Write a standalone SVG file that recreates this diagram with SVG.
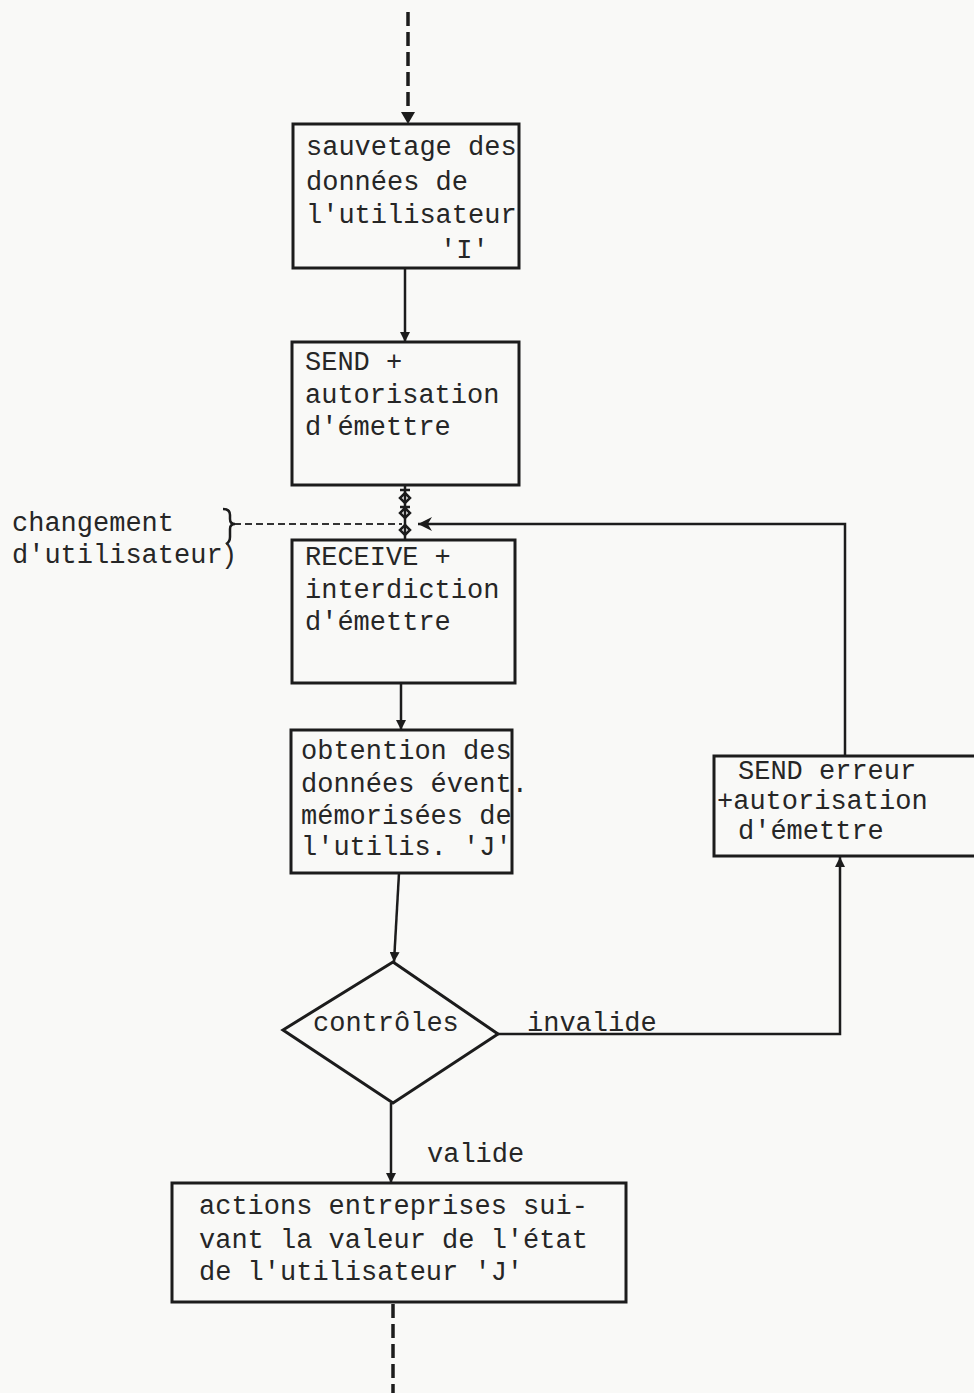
<svg xmlns="http://www.w3.org/2000/svg" width="974" height="1393" viewBox="0 0 974 1393">
<style>
.bg{fill:#f9f9f7}
.box{fill:none;stroke:#1c1c1c;stroke-width:3}
.t{font-family:"Liberation Mono","Courier New",monospace;font-size:27px;fill:#262626}
.ln{fill:none;stroke:#1c1c1c;stroke-width:2.5}
.dash{fill:none;stroke:#1c1c1c;stroke-width:3.5;stroke-dasharray:14 6}
.dl{fill:none;stroke:#333;stroke-width:1.8;stroke-dasharray:7 4}
.ah{fill:#1c1c1c}
</style>
<defs>
<marker id="arr" viewBox="0 0 10 10" refX="10" refY="5" markerWidth="10" markerHeight="10" markerUnits="userSpaceOnUse" orient="auto">
<path d="M0,0 L10,5 L0,10 z" class="ah"/>
</marker>
<marker id="arrL" viewBox="0 0 10 10" refX="10" refY="5" markerWidth="14" markerHeight="14" markerUnits="userSpaceOnUse" orient="auto">
<path d="M0,0 L10,5 L0,10 L3,5 z" class="ah"/>
</marker>
</defs>
<rect class="bg" x="0" y="0" width="974" height="1393"/>

<g id="connectors">
<line class="dash" x1="408" y1="12" x2="408" y2="112"/>
<path class="ah" d="M401,112 L415,112 L408,124 z"/>
<line class="ln" x1="405" y1="268" x2="405" y2="342" marker-end="url(#arr)"/>
<line class="ln" x1="405" y1="485" x2="405" y2="540"/>
<path class="ln" stroke-width="1.6" d="M400,490 L410,490 M405,493 L410,498 L405,503 L400,498 z M400,507 L410,507 M405,508 L410,513 L405,518 L400,513 z M405,525 L410,530 L405,535 L400,530 z"/>
<line class="dl" x1="234" y1="524" x2="402" y2="524"/>
<polyline class="ln" points="845,757 845,524 418,524" marker-end="url(#arrL)"/>
<line class="ln" x1="401" y1="683" x2="401" y2="730" marker-end="url(#arr)"/>
<line class="ln" x1="399" y1="873" x2="394" y2="962" marker-end="url(#arr)"/>
<polyline class="ln" points="498,1034 840,1034 840,857" marker-end="url(#arr)"/>
<line class="ln" x1="391" y1="1103" x2="391" y2="1183" marker-end="url(#arr)"/>
<line class="dash" x1="393" y1="1304" x2="393" y2="1393"/>
</g>

<g id="n1">
<rect class="box" x="293" y="124" width="226" height="144"/>
<text class="t" x="306" y="155">sauvetage des</text>
<text class="t" x="306" y="190">données de</text>
<text class="t" x="306" y="223">l'utilisateur</text>
<text class="t" x="440" y="258">'I'</text>
</g>

<g id="n2">
<rect class="box" x="292" y="342" width="227" height="143"/>
<text class="t" x="305" y="370">SEND +</text>
<text class="t" x="305" y="403">autorisation</text>
<text class="t" x="305" y="435">d'émettre</text>
</g>

<g id="label-changement">
<text class="t" x="12" y="531">changement</text>
<text class="t" x="12" y="563">d'utilisateur</text>
<path class="ln" stroke-width="2" d="M223,509 Q230,509 230,515 L230,519 Q230,524 235,524 Q230,524 230,529 L230,537 Q230,542 226,544"/>
<text class="t" x="221" y="563">)</text>
</g>

<g id="n3">
<rect class="box" x="292" y="540" width="223" height="143"/>
<text class="t" x="305" y="565">RECEIVE +</text>
<text class="t" x="305" y="598">interdiction</text>
<text class="t" x="305" y="630">d'émettre</text>
</g>

<g id="n4">
<rect class="box" x="291" y="730" width="221" height="143"/>
<text class="t" x="301" y="759">obtention des</text>
<text class="t" x="301" y="792">données évent.</text>
<text class="t" x="301" y="824">mémorisées de</text>
<text class="t" x="301" y="855">l'utilis. 'J'</text>
</g>

<g id="n5">
<polygon class="box" stroke-width="2.5" points="393,962 498,1034 393,1103 283,1030"/>
<text class="t" x="313" y="1031">contrôles</text>
</g>

<g id="label-invalide">
<text class="t" x="527" y="1031">invalide</text>
</g>

<g id="n6">
<rect class="box" x="714" y="756" width="262" height="100"/>
<text class="t" x="738" y="779">SEND erreur</text>
<text class="t" x="717" y="809">+autorisation</text>
<text class="t" x="738" y="839">d'émettre</text>
</g>

<g id="label-valide">
<text class="t" x="427" y="1162">valide</text>
</g>

<g id="n7">
<rect class="box" x="172" y="1183" width="454" height="119"/>
<text class="t" x="199" y="1214">actions entreprises sui-</text>
<text class="t" x="199" y="1248">vant la valeur de l'état</text>
<text class="t" x="199" y="1280">de l'utilisateur 'J'</text>
</g>
</svg>
